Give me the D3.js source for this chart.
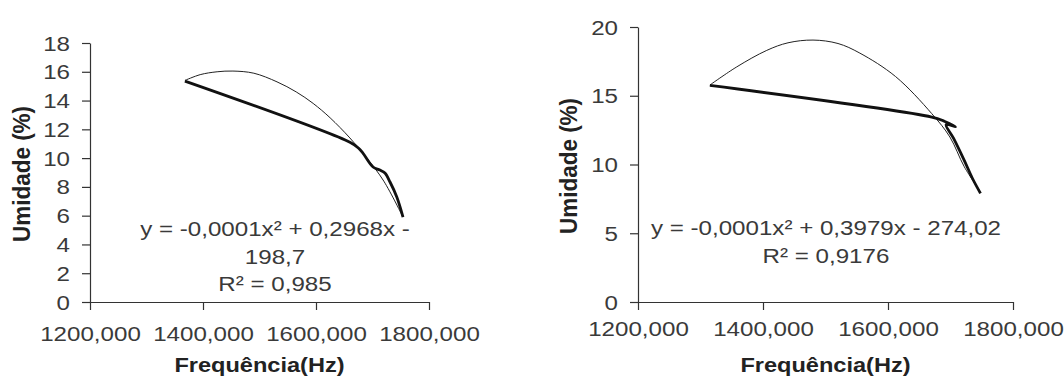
<!DOCTYPE html>
<html lang="pt">
<head>
    <meta charset="UTF-8">
    <script src="https://d3js.org/d3.v7.min.js"></script>
    <style>
        body {margin: 0; background-color: #ffffff}
        svg {display: block}
        text {font-family: "Liberation Sans", Arial, sans-serif; fill: #3a3a3a}
        .title {font-weight: bold; fill: #222}
        .domain, .tick line {stroke: #333; stroke-width: 1.2}
    </style>
</head>
<body>
<svg class="chart" width="1064" height="376"></svg>
<script type="text/javascript">
    // tick values and labels
    const xTicks = [1200, 1400, 1600, 1800];
    const xTickLabels = ['1200,000', '1400,000', '1600,000', '1800,000'];
    const leftYTicks = [0, 2, 4, 6, 8, 10, 12, 14, 16, 18];
    const rightYTicks = [0, 5, 10, 15, 20];

    // left chart: fitted curve (thin) and measured data (thick)
    const leftFit = [[1368, 15.4], [1395, 15.8], [1425, 16.0], [1453, 16.05], [1490, 15.9],
        [1531, 15.3], [1565, 14.6], [1595, 13.8], [1625, 12.8], [1660, 11.4],
        [1690, 10.0], [1720, 8.4], [1754, 5.9]];
    const leftData = [[1368, 15.35], [1660, 11.1], [1675, 10.7], [1683, 10.35], [1701, 9.38],
        [1713, 9.17], [1722, 8.96], [1731, 8.34], [1743, 7.3], [1754, 5.9]];
    const leftEquation = ['y = -0,0001x\u00B2 + 0,2968x -', '198,7', 'R\u00B2 = 0,985'];

    // right chart
    const rightFit = [[1315, 15.78], [1358, 17.1], [1406, 18.3], [1440, 18.85], [1480, 19.05],
        [1520, 18.8], [1555, 18.1], [1612, 16.4], [1670, 13.7], [1699, 12.0],
        [1722, 9.84], [1748, 8.0]];
    const rightData = [[1315, 15.75], [1670, 13.45], [1690, 13.15], [1708, 12.75], [1693, 12.9],
        [1705, 11.9], [1722, 10.3], [1735, 9.0], [1748, 7.9]];
    const rightEquation = ['y = -0,0001x\u00B2 + 0,3979x - 274,02', 'R\u00B2 = 0,9176'];

    const SX = 1.15;   // the picture's text is a bit wider than normal
    const svg = d3.select('.chart');

    function addText(g, x, y, txt, size, cls, anchor) {
        return g.append('text')
            .attr('transform', 'translate(' + x + ',' + y + ') scale(' + SX + ',1)')
            .attr('text-anchor', anchor || 'middle')
            .attr('class', cls || null)
            .style('font-size', size + 'px')
            .text(txt);
    }

    function drawChart(cfg) {
        const x = d3.scaleLinear().domain([1200, 1800]).range([cfg.x0, cfg.x1]);
        const y = d3.scaleLinear().domain([0, cfg.yMax]).range([302, cfg.yTop]);
        const g = svg.append('g');

        const xAxis = g.append('g')
            .attr('transform', 'translate(0,302)')
            .call(d3.axisBottom(x).tickValues(xTicks).tickSize(8).tickSizeOuter(0)
                .tickFormat(function (d, i) { return xTickLabels[i]; }));
        xAxis.selectAll('text')
            .attr('y', null).attr('dy', null)
            .attr('transform', 'translate(0,' + cfg.xLabelDy + ') scale(' + SX + ',1)')
            .style('font-size', '21px').attr('fill', null);

        const yAxis = g.append('g')
            .attr('transform', 'translate(' + cfg.x0 + ',0)')
            .call(d3.axisLeft(y).tickValues(cfg.yTicks).tickSize(8).tickSizeOuter(0));
        yAxis.selectAll('text')
            .attr('x', null).attr('dy', null)
            .attr('transform', 'translate(-20,7) scale(' + SX + ',1)')
            .style('font-size', '21px').attr('fill', null);

        const line = d3.line()
            .x(function (d) { return x(d[0]); })
            .y(function (d) { return y(d[1]); });

        g.append('path').datum(cfg.fit)
            .attr('d', line.curve(d3.curveCatmullRom))
            .attr('fill', 'none').attr('stroke', '#222').attr('stroke-width', 1);
        g.append('path').datum(cfg.data)
            .attr('d', line.curve(d3.curveCatmullRom))
            .attr('fill', 'none').attr('stroke', '#111').attr('stroke-width', 2.8)
            .attr('stroke-linejoin', 'round');

        cfg.equation.forEach(function (t, i) {
            addText(g, cfg.eqX, cfg.eqY + i * 27.5, t, 21);
        });

        addText(g, (cfg.x0 + cfg.x1) / 2, 372, 'Frequência(Hz)', 20.5, 'title');
        g.append('text')
            .attr('transform', 'translate(' + cfg.yTitleX + ',' + cfg.yTitleY + ') scale(1.1,1) rotate(-90)')
            .attr('text-anchor', 'middle')
            .attr('class', 'title')
            .style('font-size', '22.5px')
            .text('Umidade (%)');
    }

    drawChart({x0: 90, x1: 429, yMax: 18, yTop: 43, yTicks: leftYTicks,
        fit: leftFit, data: leftData, equation: leftEquation,
        eqX: 275, eqY: 236, xLabelDy: 39, yTitleX: 30, yTitleY: 174});

    drawChart({x0: 638, x1: 1013, yMax: 20, yTop: 27, yTicks: rightYTicks,
        fit: rightFit, data: rightData, equation: rightEquation,
        eqX: 826, eqY: 235, xLabelDy: 34, yTitleX: 577, yTitleY: 166});
</script>
</body>
</html>
